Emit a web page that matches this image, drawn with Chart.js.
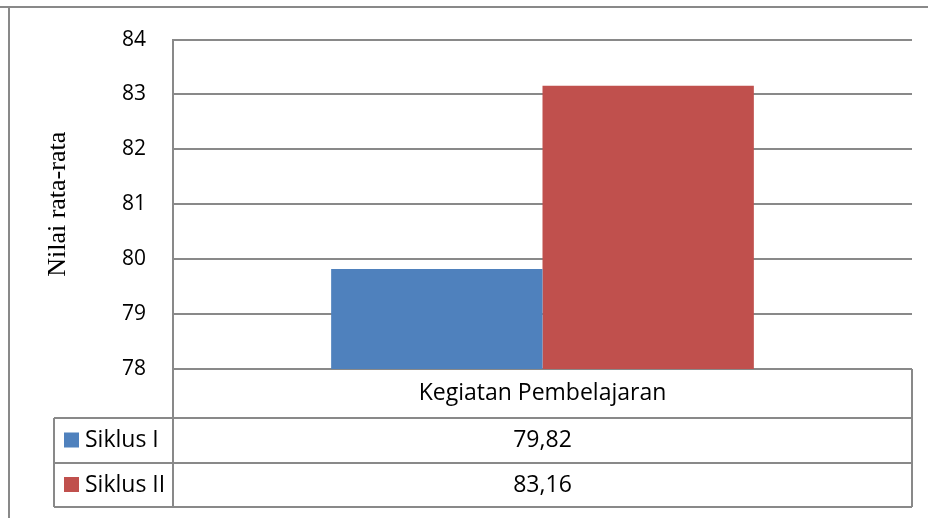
<!DOCTYPE html>
<html>
<head>
<meta charset="utf-8">
<script src="https://cdn.jsdelivr.net/npm/chart.js@4.4.0/dist/chart.umd.min.js"></script>
<style>
  html, body { margin: 0; padding: 0; background: #fff; }
  #wrap { width: 928px; height: 518px; }
</style>
</head>
<body>
<div id="wrap"><canvas id="barChart" width="928" height="518"></canvas></div>
<script>
// Data
const categories = ['Kegiatan Pembelajaran'];
const seriesNames = ['Siklus I', 'Siklus II'];
const siklus1 = [79.82];
const siklus2 = [83.16];
const seriesColors = ['#4F81BD', '#C0504D'];
const yMin = 78;
const yMax = 84;

const gridColor = '#898989';
const tableFont = '23px "Open Sans", sans-serif';

function fmt(v) {
    return v.toFixed(2).replace('.', ',');
}

// Frame + data table under the plot
const tablePlugin = {
    id: 'dataTable',
    afterDraw(chart) {
        const ctx = chart.ctx;
        const area = chart.chartArea;
        const rowH = [49, 45, 44];
        const legendLeft = 54;
        const top = area.bottom;
        const r1 = top + rowH[0];
        const r2 = r1 + rowH[1];
        const r3 = r2 + rowH[2];

        ctx.save();
        ctx.strokeStyle = gridColor;
        ctx.lineWidth = 2;

        // outer frame (top + left)
        ctx.beginPath();
        ctx.moveTo(0, 7); ctx.lineTo(928, 7);
        ctx.moveTo(9, 7); ctx.lineTo(9, 518);
        ctx.stroke();

        // table lines
        ctx.beginPath();
        ctx.moveTo(area.left, area.top); ctx.lineTo(area.left, r3);
        ctx.moveTo(area.right, top); ctx.lineTo(area.right, r3);
        ctx.moveTo(legendLeft, r1); ctx.lineTo(area.right, r1);
        ctx.moveTo(legendLeft, r2); ctx.lineTo(area.right, r2);
        ctx.moveTo(legendLeft, r3); ctx.lineTo(area.right, r3);
        ctx.moveTo(legendLeft, r1); ctx.lineTo(legendLeft, r3);
        ctx.stroke();

        ctx.font = tableFont;
        ctx.fillStyle = '#000';
        ctx.textBaseline = 'middle';
        const xs = chart.scales.x;

        categories.forEach((c, i) => {
            const cx = xs.getPixelForValue(i);
            ctx.textAlign = 'center';
            ctx.fillText(c, cx, top + rowH[0] / 2);
        });

        const rows = [[r1, r2], [r2, r3]];
        chart.data.datasets.forEach((ds, k) => {
            const mid = (rows[k][0] + rows[k][1]) / 2;
            ctx.fillStyle = ds.backgroundColor;
            ctx.fillRect(legendLeft + 10, mid - 8, 15, 15);
            ctx.fillStyle = '#000';
            ctx.textAlign = 'left';
            ctx.fillText(ds.label, legendLeft + 31, mid);
            ds.data.forEach((v, i) => {
                ctx.textAlign = 'center';
                ctx.fillText(fmt(v), xs.getPixelForValue(i), mid);
            });
        });
        ctx.restore();
    }
};

new Chart(document.getElementById('barChart').getContext('2d'), {
    type: 'bar',
    data: {
        labels: categories,
        datasets: [
            { label: seriesNames[0], data: siklus1, backgroundColor: seriesColors[0] },
            { label: seriesNames[1], data: siklus2, backgroundColor: seriesColors[1] }
        ]
    },
    options: {
        responsive: false,
        animation: false,
        layout: { padding: { left: 43, top: 36, right: 16, bottom: 149 } },
        datasets: {
            bar: { barPercentage: 1, categoryPercentage: 0.572 }
        },
        plugins: {
            legend: { display: false },
            tooltip: { enabled: false }
        },
        scales: {
            x: { display: false },
            y: {
                min: yMin,
                max: yMax,
                ticks: {
                    stepSize: 1,
                    padding: 27,
                    color: '#000',
                    font: { family: '"Open Sans", sans-serif', size: 21 }
                },
                grid: { color: gridColor, lineWidth: 2, drawTicks: false },
                border: { display: true, color: gridColor, width: 2 },
                title: {
                    display: true,
                    text: 'Nilai rata-rata',
                    color: '#000',
                    padding: 0,
                    font: { family: '"Liberation Serif", "DejaVu Serif", serif', size: 26 }
                },
                afterFit(scale) { scale.width = 130; }
            }
        }
    },
    plugins: [tablePlugin]
});
</script>
</body>
</html>
